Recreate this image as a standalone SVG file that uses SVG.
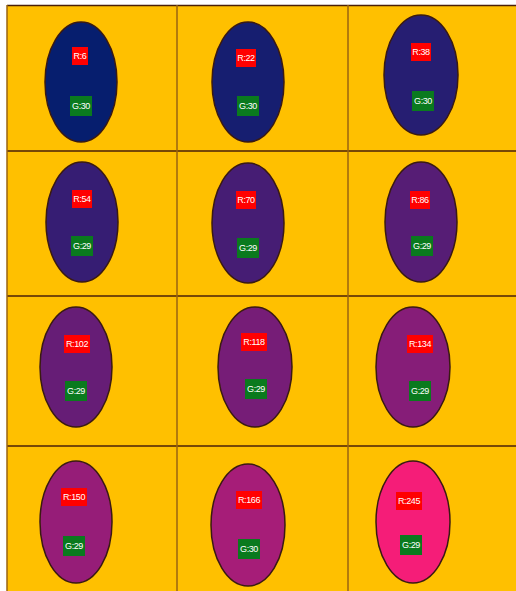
<svg xmlns="http://www.w3.org/2000/svg" width="516" height="591" viewBox="0 0 516 591">
<style>
.bg{fill:#FFC000}
.hl{stroke:#4a2008;stroke-width:1.5}
.vl{stroke:#9a6410;stroke-width:1.5}
.el{stroke:#3a1a12;stroke-width:1.5}
.r{fill:#FF0000}
.g{fill:#0A7A1E}
.t{fill:#ffffff;font-family:"Liberation Sans",Arial,sans-serif;font-size:9px;text-anchor:middle;letter-spacing:-0.4px}
</style>
<rect x="0" y="0" width="516" height="591" fill="#ffffff"/>
<rect class="bg" x="7" y="5" width="509" height="586"/>
<g id="grid">
<line class="hl" x1="7" y1="5.5" x2="516" y2="5.5"/>
<line class="hl" x1="7" y1="151" x2="516" y2="151"/>
<line class="hl" x1="7" y1="296" x2="516" y2="296"/>
<line class="hl" x1="7" y1="446" x2="516" y2="446"/>
<line class="vl" x1="7" y1="5" x2="7" y2="591"/>
<line class="vl" x1="177" y1="5" x2="177" y2="591"/>
<line class="vl" x1="348" y1="5" x2="348" y2="591"/>
</g>
<g id="n1"><ellipse class="el" cx="81" cy="82" rx="36" ry="60" fill="rgb(6,30,110)"/><rect class="r" x="72" y="47" width="16" height="18"/><text class="t" x="80" y="59">R:6</text><rect class="g" x="70" y="96" width="22" height="20"/><text class="t" x="81" y="109">G:30</text></g>
<g id="n2"><ellipse class="el" cx="248" cy="82" rx="36" ry="60" fill="rgb(22,30,112)"/><rect class="r" x="236" y="49" width="20" height="18"/><text class="t" x="246" y="61">R:22</text><rect class="g" x="237" y="96" width="22" height="20"/><text class="t" x="248" y="109">G:30</text></g>
<g id="n3"><ellipse class="el" cx="421" cy="75" rx="37" ry="60" fill="rgb(38,30,114)"/><rect class="r" x="411" y="43" width="20" height="18"/><text class="t" x="421" y="55">R:38</text><rect class="g" x="412" y="91" width="22" height="20"/><text class="t" x="423" y="104">G:30</text></g>
<g id="n4"><ellipse class="el" cx="82" cy="222" rx="36" ry="60" fill="rgb(54,29,115)"/><rect class="r" x="72" y="190" width="20" height="18"/><text class="t" x="82" y="202">R:54</text><rect class="g" x="71" y="236" width="22" height="20"/><text class="t" x="82" y="249">G:29</text></g>
<g id="n5"><ellipse class="el" cx="248" cy="223" rx="36" ry="60" fill="rgb(70,29,116)"/><rect class="r" x="236" y="191" width="20" height="18"/><text class="t" x="246" y="203">R:70</text><rect class="g" x="237" y="238" width="22" height="20"/><text class="t" x="248" y="251">G:29</text></g>
<g id="n6"><ellipse class="el" cx="421" cy="222" rx="36" ry="60" fill="rgb(86,29,117)"/><rect class="r" x="410" y="191" width="20" height="18"/><text class="t" x="420" y="203">R:86</text><rect class="g" x="411" y="236" width="22" height="20"/><text class="t" x="422" y="249">G:29</text></g>
<g id="n7"><ellipse class="el" cx="76" cy="367" rx="36" ry="60" fill="rgb(102,29,118)"/><rect class="r" x="64" y="335" width="26" height="18"/><text class="t" x="77" y="347">R:102</text><rect class="g" x="65" y="381" width="22" height="20"/><text class="t" x="76" y="394">G:29</text></g>
<g id="n8"><ellipse class="el" cx="255" cy="367" rx="37" ry="60" fill="rgb(118,29,119)"/><rect class="r" x="241" y="333" width="26" height="18"/><text class="t" x="254" y="345">R:118</text><rect class="g" x="245" y="379" width="22" height="20"/><text class="t" x="256" y="392">G:29</text></g>
<g id="n9"><ellipse class="el" cx="413" cy="367" rx="37" ry="60" fill="rgb(134,29,120)"/><rect class="r" x="407" y="335" width="26" height="18"/><text class="t" x="420" y="347">R:134</text><rect class="g" x="409" y="381" width="22" height="20"/><text class="t" x="420" y="394">G:29</text></g>
<g id="n10"><ellipse class="el" cx="76" cy="522" rx="36" ry="61" fill="rgb(150,29,120)"/><rect class="r" x="61" y="488" width="26" height="18"/><text class="t" x="74" y="500">R:150</text><rect class="g" x="63" y="536" width="22" height="20"/><text class="t" x="74" y="549">G:29</text></g>
<g id="n11"><ellipse class="el" cx="248" cy="525" rx="37" ry="61" fill="rgb(166,29,120)"/><rect class="r" x="236" y="491" width="26" height="18"/><text class="t" x="249" y="503">R:166</text><rect class="g" x="238" y="539" width="22" height="20"/><text class="t" x="249" y="552">G:30</text></g>
<g id="n12"><ellipse class="el" cx="413" cy="522" rx="37" ry="61" fill="rgb(245,29,120)"/><rect class="r" x="396" y="492" width="26" height="18"/><text class="t" x="409" y="504">R:245</text><rect class="g" x="400" y="535" width="22" height="20"/><text class="t" x="411" y="548">G:29</text></g>
</svg>
